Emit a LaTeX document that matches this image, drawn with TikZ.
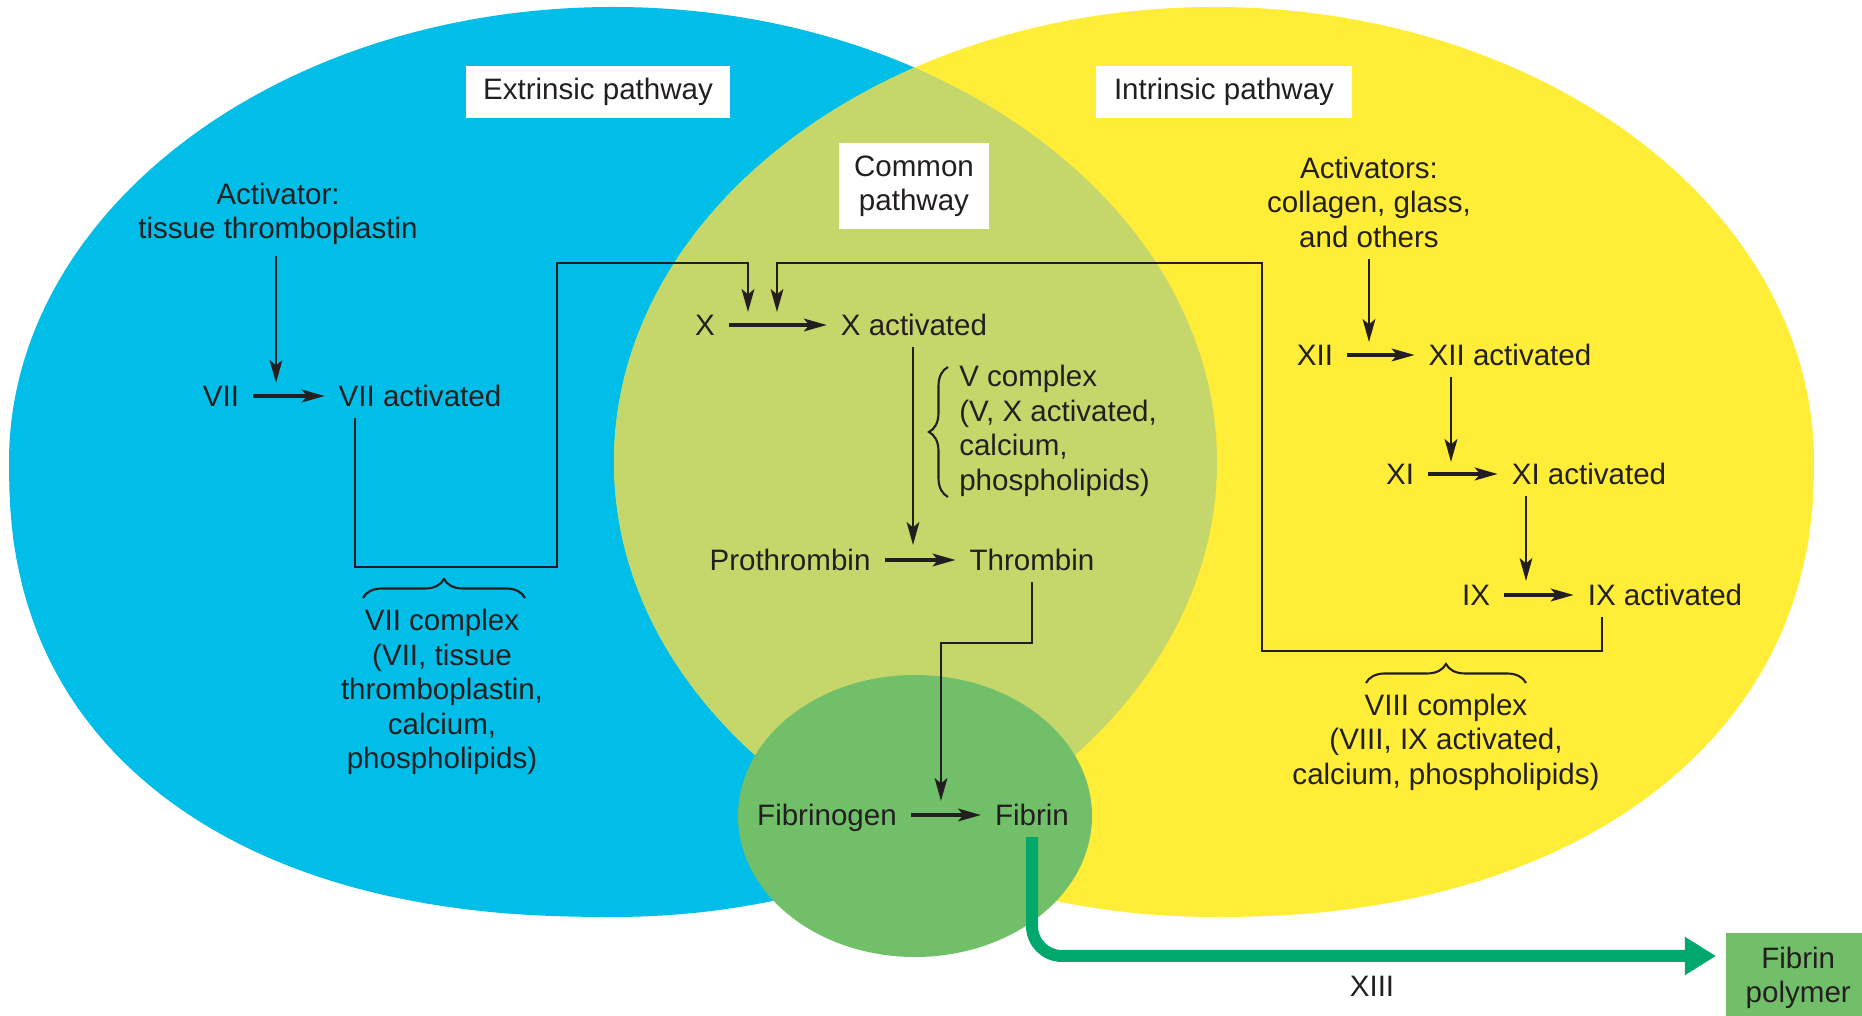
\documentclass[tikz,border=0pt]{standalone}
\usepackage{fontspec}
\setmainfont{Liberation Sans}
\usepackage{tikz}
\usetikzlibrary{calc, arrows.meta, positioning, decorations.pathreplacing}
\definecolor{extblue}{HTML}{00BEE8}
\definecolor{intyellow}{HTML}{FFED38}
\definecolor{comolive}{HTML}{C5D76A}
\definecolor{fibgreen}{HTML}{72BF6A}
\definecolor{xiiigreen}{HTML}{00A96B}
\definecolor{ink}{HTML}{231F20}

\begin{document}
\begin{tikzpicture}[x=0.01cm,y=-0.01cm,
    font=\fontsize{8.4}{9.8}\selectfont, text=ink,
    fac/.style={inner xsep=3.8pt,inner ysep=3pt,text height=6.2pt,text depth=0pt},
    txt/.style={inner sep=3pt,align=center},
    title/.style={fill=white,align=center,inner sep=0pt},
    link/.style={draw=ink,line width=0.8pt},
    arw/.style={link,-{Stealth[length=6.5pt,width=3.6pt,inset=1.5pt]}},
    rxn/.style={arw,line width=1pt},
    brc/.style={draw=ink,line width=0.6pt,decorate,decoration={brace,amplitude=0.19cm}},
    fib/.style={draw=xiiigreen,line width=0.12cm,rounded corners=0.3cm,-{Triangle[length=0.31cm,width=0.36cm]}}]
            \useasboundingbox (0,0) rectangle (1862,1016); %範囲
            \fill[extblue] (9,462) arc[start angle=180,end angle=450,x radius=604,y radius=455]
                -- plot[domain=89.5:0.5,samples=50] ({613-604*pow(cos(\x),0.87)},{462+455*pow(sin(\x),0.87)}) -- cycle; %外因系
            \fill[intyellow] (1814,462) arc[start angle=0,end angle=-270,x radius=600,y radius=455]
                -- plot[domain=89.5:0.5,samples=50] ({1214+600*pow(cos(\x),0.91)},{462+455*pow(sin(\x),0.91)}) -- cycle; %内因系
            \begin{scope}
                \clip (9,462) arc[start angle=180,end angle=450,x radius=604,y radius=455]
                    -- plot[domain=89.5:0.5,samples=50] ({613-604*pow(cos(\x),0.87)},{462+455*pow(sin(\x),0.87)}) -- cycle;
                \fill[comolive] (1814,462) arc[start angle=0,end angle=-270,x radius=600,y radius=455] -- cycle; %共通系
            \end{scope}
            \fill[fibgreen] (915,816) ellipse [x radius=177,y radius=141]; %フィブリン

            \node[title,minimum width=2.64cm,minimum height=0.51cm] (ext) at (598,92) {Extrinsic pathway}; %見出し
            \node[title,minimum width=2.55cm,minimum height=0.51cm] (int) at (1224,92) {Intrinsic pathway};
            \node[title,minimum width=1.5cm,minimum height=0.86cm] (com) at (914,186) {Common\\pathway};

            % 外因系
            \node[txt] (act1) at (278,214) {Activator:\\tissue thromboplastin};
            \node[fac] (VII) at (221,396) {VII};
            \node[fac] (VIIa) at (420,396) {VII activated};
            \coordinate (t1) at (276,383);
            \draw[arw] (act1.south -| t1) -- (t1); %活性化
            \draw[rxn] (VII) -- (VIIa);
            \coordinate (s7) at (355,567);
            \coordinate (inA) at (748,312);
            \draw[arw] (VIIa.south -| s7) -- (s7) -| (557,263) -| (inA); %Xへ
            \draw[brc] (363,598) -- (525,598);
            \node[txt] (VIIc) at (442,692) {VII complex\\(VII, tissue\\thromboplastin,\\calcium,\\phospholipids)};

            % 共通系
            \node[fac] (X) at (705,325) {X};
            \node[fac] (Xa) at (914,325) {X activated};
            \draw[rxn] (X) -- (Xa);
            \coordinate (t2) at (913,545);
            \draw[arw] (Xa.south -| t2) -- (t2);
            \draw[brc] (948,497) -- (948,367);
            \node[txt,align=left,anchor=west] (Vc) at (948,431) {V complex\\(V, X activated,\\calcium,\\phospholipids)};
            \node[fac] (Pro) at (790,560) {Prothrombin};
            \node[fac] (Thr) at (1032,560) {Thrombin};
            \draw[rxn] (Pro) -- (Thr);
            \coordinate (t3) at (941,801);
            \draw[arw] (Thr.south) |- (941,643) -- (t3);
            \node[fac] (Fgn) at (827,815) {Fibrinogen};
            \node[fac] (Fbn) at (1032,815) {Fibrin};
            \draw[rxn] (Fgn) -- (Fbn);

            % 内因系
            \node[txt] (act2) at (1369,202) {Activators:\\collagen, glass,\\and others};
            \node[fac] (XII) at (1315,355) {XII};
            \node[fac] (XIIa) at (1510,355) {XII activated};
            \coordinate (t5) at (1369,342);
            \draw[arw] (act2.south -| t5) -- (t5);
            \draw[rxn] (XII) -- (XIIa);
            \node[fac] (XI) at (1400,474) {XI};
            \node[fac] (XIa) at (1589,474) {XI activated};
            \coordinate (t6) at (1451,462);
            \draw[arw] (XIIa.south -| t6) -- (t6);
            \draw[rxn] (XI) -- (XIa);
            \node[fac] (IX) at (1476,595) {IX};
            \node[fac] (IXa) at (1665,595) {IX activated};
            \coordinate (t7) at (1526,581);
            \draw[arw] (XIa.south -| t7) -- (t7);
            \draw[rxn] (IX) -- (IXa);
            \coordinate (s9) at (1602,651);
            \coordinate (inB) at (777,312);
            \draw[arw] (IXa.south -| s9) -- (s9) -| (1262,263) -| (inB); %Xへ
            \draw[brc] (1366,683) -- (1526,683);
            \node[txt] (VIIIc) at (1446,742) {VIII complex\\(VIII, IX activated,\\calcium, phospholipids)};

            % 重合
            \node[fill=fibgreen,txt,anchor=north west,minimum width=1.45cm,minimum height=0.9cm] (poly) at (1725,932) {Fibrin\\polymer};
            \coordinate (t8) at (1716,956);
            \draw[fib] (Fbn.south) |- (t8);
            \node[txt] (XIII) at (1372,986) {XIII};
        \end{tikzpicture}
\end{document}
